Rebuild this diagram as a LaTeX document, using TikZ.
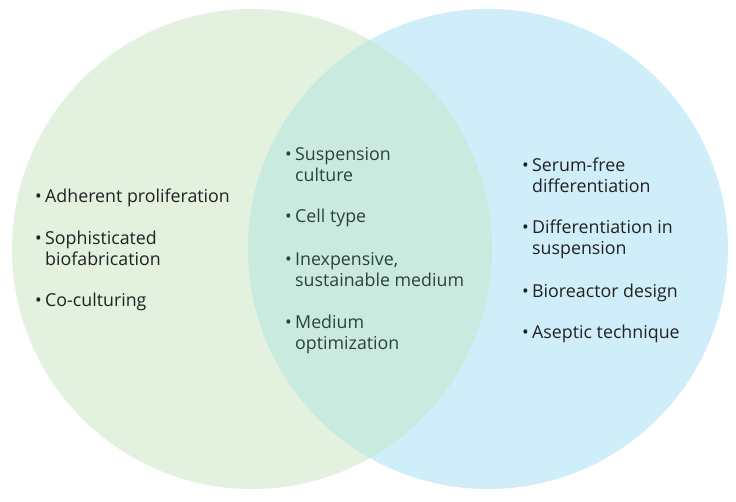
\documentclass[tikz,border=0pt]{standalone}
\usepackage{fontspec}
\setmainfont{Open Sans}
\definecolor{leftfill}{RGB}{227,241,223}
\definecolor{rightfill}{RGB}{208,237,250}
\definecolor{midfill}{RGB}{201,234,222}
\definecolor{sidetext}{RGB}{32,34,34}
\definecolor{midtext}{RGB}{44,66,60}
\newcommand{\bitem}[1]{\makebox[10pt][l]{\textbullet}#1}
\tikzset{
  itemtext/.style={anchor=base west, inner sep=0pt, align=left, text=sidetext,
    font=\fontsize{17.8}{21}\selectfont},
  miditem/.style={itemtext, text=midtext}
}
\begin{document}
\begin{tikzpicture}[x=1pt,y=-1pt]
\useasboundingbox (0,0) rectangle (736,501);
\fill[white] (0,0) rectangle (736,501);
% circles
\fill[leftfill] (252,249) circle (240);
\fill[rightfill] (488,249) circle (240);
\begin{scope}
  \clip (252,249) circle (240);
  \fill[midfill] (488,249) circle (240);
\end{scope}
% left items (base anchor = last line baseline)
\node[itemtext] (l1) at (35,202) {\bitem{Adherent proliferation}};
\node[itemtext] (l2) at (35,265) {\bitem{Sophisticated}\\\hspace*{10pt}biofabrication};
\node[itemtext] (l3) at (35,306) {\bitem{Co-culturing}};
% middle items
\node[miditem] (m1) at (285,181) {\bitem{Suspension}\\\hspace*{10pt}culture};
\node[miditem] (m2) at (285,222) {\bitem{Cell type}};
\node[miditem] (m3) at (285,286) {\bitem{Inexpensive,}\\\hspace*{10pt}sustainable medium};
\node[miditem] (m4) at (285,349) {\bitem{Medium}\\\hspace*{10pt}optimization};
% right items
\node[itemtext] (r1) at (522,192) {\bitem{Serum-free}\\\hspace*{10pt}differentiation};
\node[itemtext] (r2) at (522,254) {\bitem{Differentiation in}\\\hspace*{10pt}suspension};
\node[itemtext] (r3) at (522,297) {\bitem{Bioreactor design}};
\node[itemtext] (r4) at (522,338) {\bitem{Aseptic technique}};
\end{tikzpicture}
\end{document}
